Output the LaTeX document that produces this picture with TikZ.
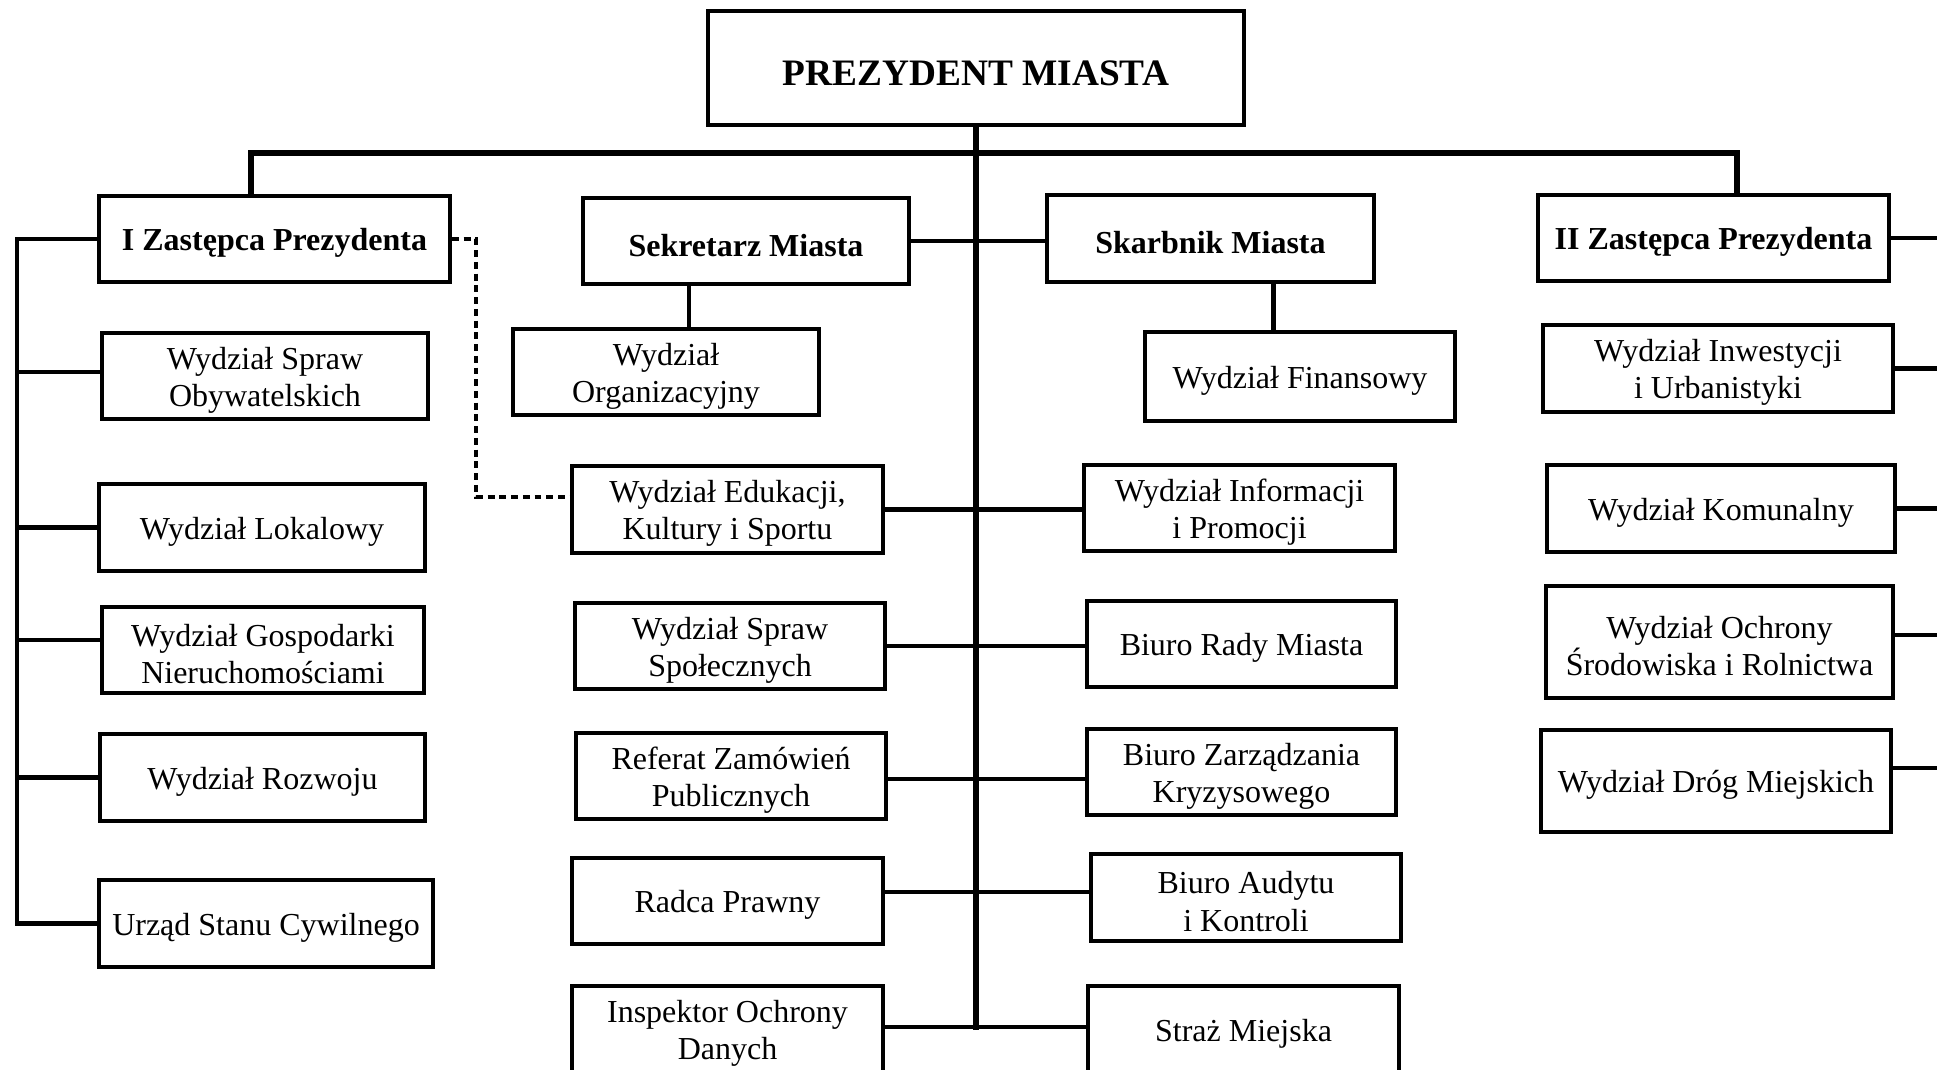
\documentclass[tikz,border=0pt]{standalone}
\usepackage{fontspec}
\setmainfont{Liberation Serif}

\tikzset{dzial/.style = {draw, rectangle, line width=1.5pt, minimum width=#1,
                         minimum height=32.5pt, inner sep=2pt, align=center,
                         font=\fontsize{12}{14}\selectfont,
                         execute at begin node={\rule{0pt}{11.4pt}}},
         dzial/.default=116pt,
         dwa/.style = {execute at begin node={\rule{0pt}{25.4pt}}},
         szef/.style = {dzial=#1, font=\fontsize{12}{14}\selectfont\bfseries},
         szef/.default=122.3pt,
         linia/.style = {line width=1.6pt, line cap=rect},
         szyna/.style = {line width=2.4pt, line cap=rect},
         kropki/.style = {line width=1.5pt, dash pattern=on 2.6pt off 1.8pt}
        }

\begin{document}
\begin{tikzpicture}[x=0.375pt,y=-0.375pt]
\clip (0,0) rectangle (1937,1070);

% gora
\node[szef=201pt, minimum height=42.75pt, font=\fontsize{14}{16}\selectfont\bfseries,
      execute at begin node={\rule{0pt}{13.3pt}}] at (976,68) (prez) {PREZYDENT MIASTA};
\node[szef=131.6pt] at (274.5,239) (iz) {I Zastępca Prezydenta};
\node[szef] at (746,241) (sek) {Sekretarz Miasta};
\node[szef] at (1210.5,238.5) (skar) {Skarbnik Miasta};
\node[szef=131.6pt] at (1713.5,238) (iiz) {II Zastępca Prezydenta};

% I zastepca
\node[dzial=121.9pt, dwa] at (265,376) (wso) {Wydział Spraw\\Obywatelskich};
\node[dzial=122.3pt] at (262,527.5) (wl) {Wydział Lokalowy};
\node[dzial=120.4pt, dwa] at (263,650) (wgn) {Wydział Gospodarki\\Nieruchomościami};
\node[dzial=121.9pt] at (262.5,777.5) (wr) {Wydział Rozwoju};
\node[dzial=125.6pt] at (266,923.5) (usc) {Urząd Stanu Cywilnego};

% sekretarz
\node[dzial=114.8pt, dwa] at (666,372) (wo) {Wydział\\Organizacyjny};
\node[dzial=116.6pt, dwa] at (727.5,509.5) (wek) {Wydział Edukacji,\\Kultury i Sportu};
\node[dzial=115.9pt, dwa] at (730,646) (wss) {Wydział Spraw\\Społecznych};
\node[dzial=115.9pt, dwa] at (731,776) (rzp) {Referat Zamówień\\Publicznych};
\node[dzial=116.6pt] at (727.5,901) (rp) {Radca Prawny};
\node[dzial=116.6pt, dwa] at (727.5,1029.5) (iod) {Inspektor Ochrony\\Danych};

% skarbnik
\node[dzial=116.3pt, minimum height=33.4pt] at (1300,376.5) (wf) {Wydział Finansowy};
\node[dzial=116.3pt, dwa] at (1239.5,508) (wip) {Wydział Informacji\\i Promocji};
\node[dzial=115.9pt] at (1241.5,644) (brm) {Biuro Rady Miasta};
\node[dzial=115.9pt, dwa] at (1241.5,772) (bzk) {Biuro Zarządzania\\Kryzysowego};
\node[dzial=116.3pt, dwa] at (1246,897.5) (bak) {Biuro Audytu\\i Kontroli};
\node[dzial=116.3pt] at (1243.5,1029.5) (sm) {Straż Miejska};

% II zastepca
\node[dzial=131.3pt, dwa] at (1718,368.5) (wiu) {Wydział Inwestycji\\i Urbanistyki};
\node[dzial=130.5pt] at (1721,508.5) (wk) {Wydział Komunalny};
\node[dzial=130.1pt, minimum height=42.3pt, dwa] at (1719.5,642) (wos) {Wydział Ochrony\\Środowiska i Rolnictwa};
\node[dzial=130.9pt, minimum height=38.3pt] at (1716,781) (wdm) {Wydział Dróg Miejskich};

\coordinate (busL) at (251,153);
\coordinate (busR) at (1737,153);
\coordinate (dol) at (0,1027);
\coordinate (lewy) at (17,0);
\coordinate (prawy) at (1937,0);
\coordinate (zakret) at (476,0);

% linie
\draw[szyna] (prez.south) -- (prez.south |- dol);
\draw[szyna] (busL |- iz.north) -- (busL) -- (busR) -- (busR |- iiz.north);
\draw[linia] (iz.west) -- (iz.west -| lewy) -- (usc.west -| lewy) -- (usc.west);
\foreach \n/\dy in {wso/1.5, wl/0, wgn/3.75, wr/0}
  \draw[linia] ([yshift=\dy pt]\n.west) -- ([yshift=\dy pt]\n.west -| lewy);
\foreach \n/\dy in {iiz/0, wiu/0, wk/0, wos/2.6, wdm/4.9}
  \draw[linia] ([yshift=\dy pt]\n.east) -- ([yshift=\dy pt]\n.east -| prawy);
\draw[linia] (sek.east) -- (sek.east -| skar.west);
\draw[linia] ([xshift=8.6pt]wo.north) -- ([xshift=8.6pt]wo.north |- sek.south);
\draw[linia] ([xshift=-9.9pt]wf.north) -- ([xshift=-9.9pt]wf.north |- skar.south);
\foreach \a/\b/\dy in {wek/wip/0, wss/brm/0, rzp/bzk/-1, rp/bak/3.5, iod/sm/1}
  \draw[linia] ([yshift=\dy pt]\a.east) -- ([yshift=\dy pt]\a.east -| \b.west);
\draw[kropki] (iz.east) -- (iz.east -| zakret) |- ([yshift=4.8pt]wek.west);
\end{tikzpicture}
\end{document}
